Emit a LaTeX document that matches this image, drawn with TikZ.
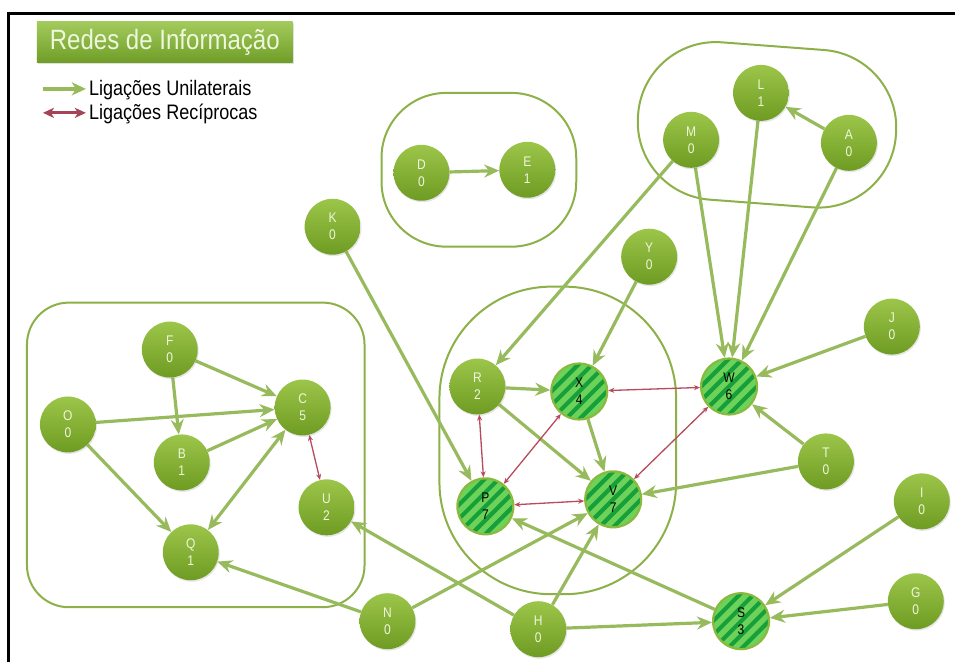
\documentclass[tikz,border=0pt]{standalone}
\usepackage{fontspec}
\setmainfont{Liberation Sans}
\newfontfamily\narrowfont[FakeStretch=0.86]{Liberation Sans}
\usetikzlibrary{arrows.meta,backgrounds,shadows}
\definecolor{nodeA}{HTML}{9CC64A}
\definecolor{nodeB}{HTML}{6E9B22}
\definecolor{edgeG}{HTML}{97BA5C}
\definecolor{edgeR}{HTML}{B84A5E}
\definecolor{grp}{HTML}{8DB048}
\definecolor{stripeL}{HTML}{6CD25A}
\definecolor{stripeD}{HTML}{17A03A}
\definecolor{ringS}{HTML}{8BB93E}
\definecolor{labelW}{HTML}{EEF6DC}
\definecolor{titleA}{HTML}{A2CA5C}
\definecolor{titleB}{HTML}{6F9D27}
\begin{document}
\begin{tikzpicture}[x=1pt,y=-1pt,
  gnode/.style={circle, minimum size=56pt, inner sep=0pt, top color=nodeA, bottom color=nodeB, draw=none,
    font=\narrowfont\fontsize{14}{17}\selectfont, text=labelW, align=center,
    drop shadow={opacity=0.2, shadow xshift=1pt, shadow yshift=-1.5pt}},
  snode/.style={circle, minimum size=56pt, inner sep=0pt, fill=stripeL, draw=ringS, line width=2.2pt,
    font=\narrowfont\fontsize{14}{17}\selectfont, text=black, align=center,
    path picture={\foreach \k in {-56,-42,...,56}{\draw[stripeD, line width=4.2pt]
      ([shift={(\k pt-45pt,-45pt)}]path picture bounding box.center) -- ++(90pt,90pt);}}},
  tipG/.tip={Stealth[length=15pt,width=13pt,inset=5pt]},
  uni/.style={draw=edgeG, line width=3.2pt, -tipG},
  rec/.style={draw=edgeR, line width=1.3pt, {Stealth[length=6pt,width=5pt]}-{Stealth[length=6pt,width=5pt]}},
  grpline/.style={draw=grp, line width=2pt}
]
% nodes
\node[gnode] (D) at (422,173) {D\\0};
\node[gnode] (E) at (528,170) {E\\1};
\node[gnode] (K) at (333,227) {K\\0};
\node[gnode] (M) at (692,140) {M\\0};
\node[gnode] (L) at (762,93) {L\\1};
\node[gnode] (A) at (850,143) {A\\0};
\node[gnode] (Y) at (650,257) {Y\\0};
\node[gnode] (J) at (893,327) {J\\0};
\node[gnode] (F) at (170,350) {F\\0};
\node[gnode] (O) at (68,425) {O\\0};
\node[gnode] (C) at (303,408) {C\\5};
\node[gnode] (B) at (182,463) {B\\1};
\node[gnode] (U) at (327,508) {U\\2};
\node[gnode] (Q) at (191,553) {Q\\1};
\node[gnode] (R) at (478,387) {R\\2};
\node[snode] (X) at (580,392) {X\\4};
\node[snode] (W) at (730,387) {W\\6};
\node[snode] (P) at (486,507) {P\\7};
\node[snode] (V) at (614,500) {V\\7};
\node[gnode] (T) at (827,462) {T\\0};
\node[gnode] (I) at (923,502) {I\\0};
\node[gnode] (G) at (917,602) {G\\0};
\node[snode] (S) at (742,622) {S\\3};
\node[gnode] (N) at (388,622) {N\\0};
\node[gnode] (H) at (539,630) {H\\0};
% title and legend
\node[rectangle, minimum width=256pt, minimum height=41pt, inner sep=0pt, top color=titleA, bottom color=titleB,
  drop shadow={opacity=0.25, shadow xshift=1pt, shadow yshift=-1.5pt},
  text=labelW, font=\narrowfont\fontsize{28}{30}\selectfont] (title) at (165,42.5) {Redes de Informação};
\coordinate (g1) at (43,89); \coordinate (g2) at (86,89);
\coordinate (r1) at (43,113); \coordinate (r2) at (86,113);
\node[anchor=west, inner sep=0pt, font=\narrowfont\fontsize{21}{24}\selectfont] (lu) at (89,90) {Ligações Unilaterais};
\node[anchor=west, inner sep=0pt, font=\narrowfont\fontsize{21}{24}\selectfont] (lr) at (89,114) {Ligações Recíprocas};
\draw[draw=edgeG, line width=4pt, -{Stealth[length=14pt,width=13pt,inset=4pt]}] (g1) -- (g2);
\draw[draw=edgeR!90!black, line width=3pt, {Stealth[length=11pt,width=10pt,inset=3pt]}-{Stealth[length=11pt,width=10pt,inset=3pt]}] (r1) -- (r2);
\begin{scope}[on background layer]
  \fill[white] (0,0) rectangle (956,663);
  \path[use as bounding box] (0,0) rectangle (956,663);
  % groups
  \draw[grpline, rounded corners=42pt] (27,303) rectangle (365,608);
  \draw[grpline, rounded corners=65pt] (382,93) rectangle (577,247);
  \draw[grpline, rounded corners=112pt] (440,287) rectangle (677,595);
  \draw[grpline, rounded corners=78pt, rotate around={-4.3:(768,125)}] (638.5,46) rectangle (897.5,204);
  % unilateral links
  \draw[uni] (D) -- (E);
  \draw[uni] (A) -- (L);
  \draw[uni] (M) -- (R);
  \draw[uni] (M) -- (W);
  \draw[uni] (L) -- (W);
  \draw[uni] (A) -- (W);
  \draw[uni] (Y) -- (X);
  \draw[uni] (J) -- (W);
  \draw[uni] (T) -- (W);
  \draw[uni] (T) -- (V);
  \draw[uni] (K) -- (P);
  \draw[uni] (R) -- (X);
  \draw[uni] (R) -- (V);
  \draw[uni] (X) -- (V);
  \draw[uni] (F) -- (C);
  \draw[uni] (F) -- (B);
  \draw[uni] (O) -- (C);
  \draw[uni] (O) -- (Q);
  \draw[uni] (B) -- (C);
  \draw[uni, tipG-tipG] (C) -- (Q);
  \draw[uni] (H) -- (U);
  \draw[uni] (N) -- (Q);
  \draw[uni] (N) -- (V);
  \draw[uni] (H) -- (V);
  \draw[uni] (H) -- (S);
  \draw[uni] (S) -- (P);
  \draw[uni] (I) -- (S);
  \draw[uni] (G) -- (S);
  % reciprocal links
  \draw[rec] (C) -- (U);
  \draw[rec] (R) -- (P);
  \draw[rec] (X) -- (P);
  \draw[rec] (X) -- (W);
  \draw[rec] (P) -- (V);
  \draw[rec] (W) -- (V);
\end{scope}
% frame
\draw[black, line width=2.5pt] (8.5,663) -- (8.5,13.5) -- (956,13.5);
\end{tikzpicture}
\end{document}
